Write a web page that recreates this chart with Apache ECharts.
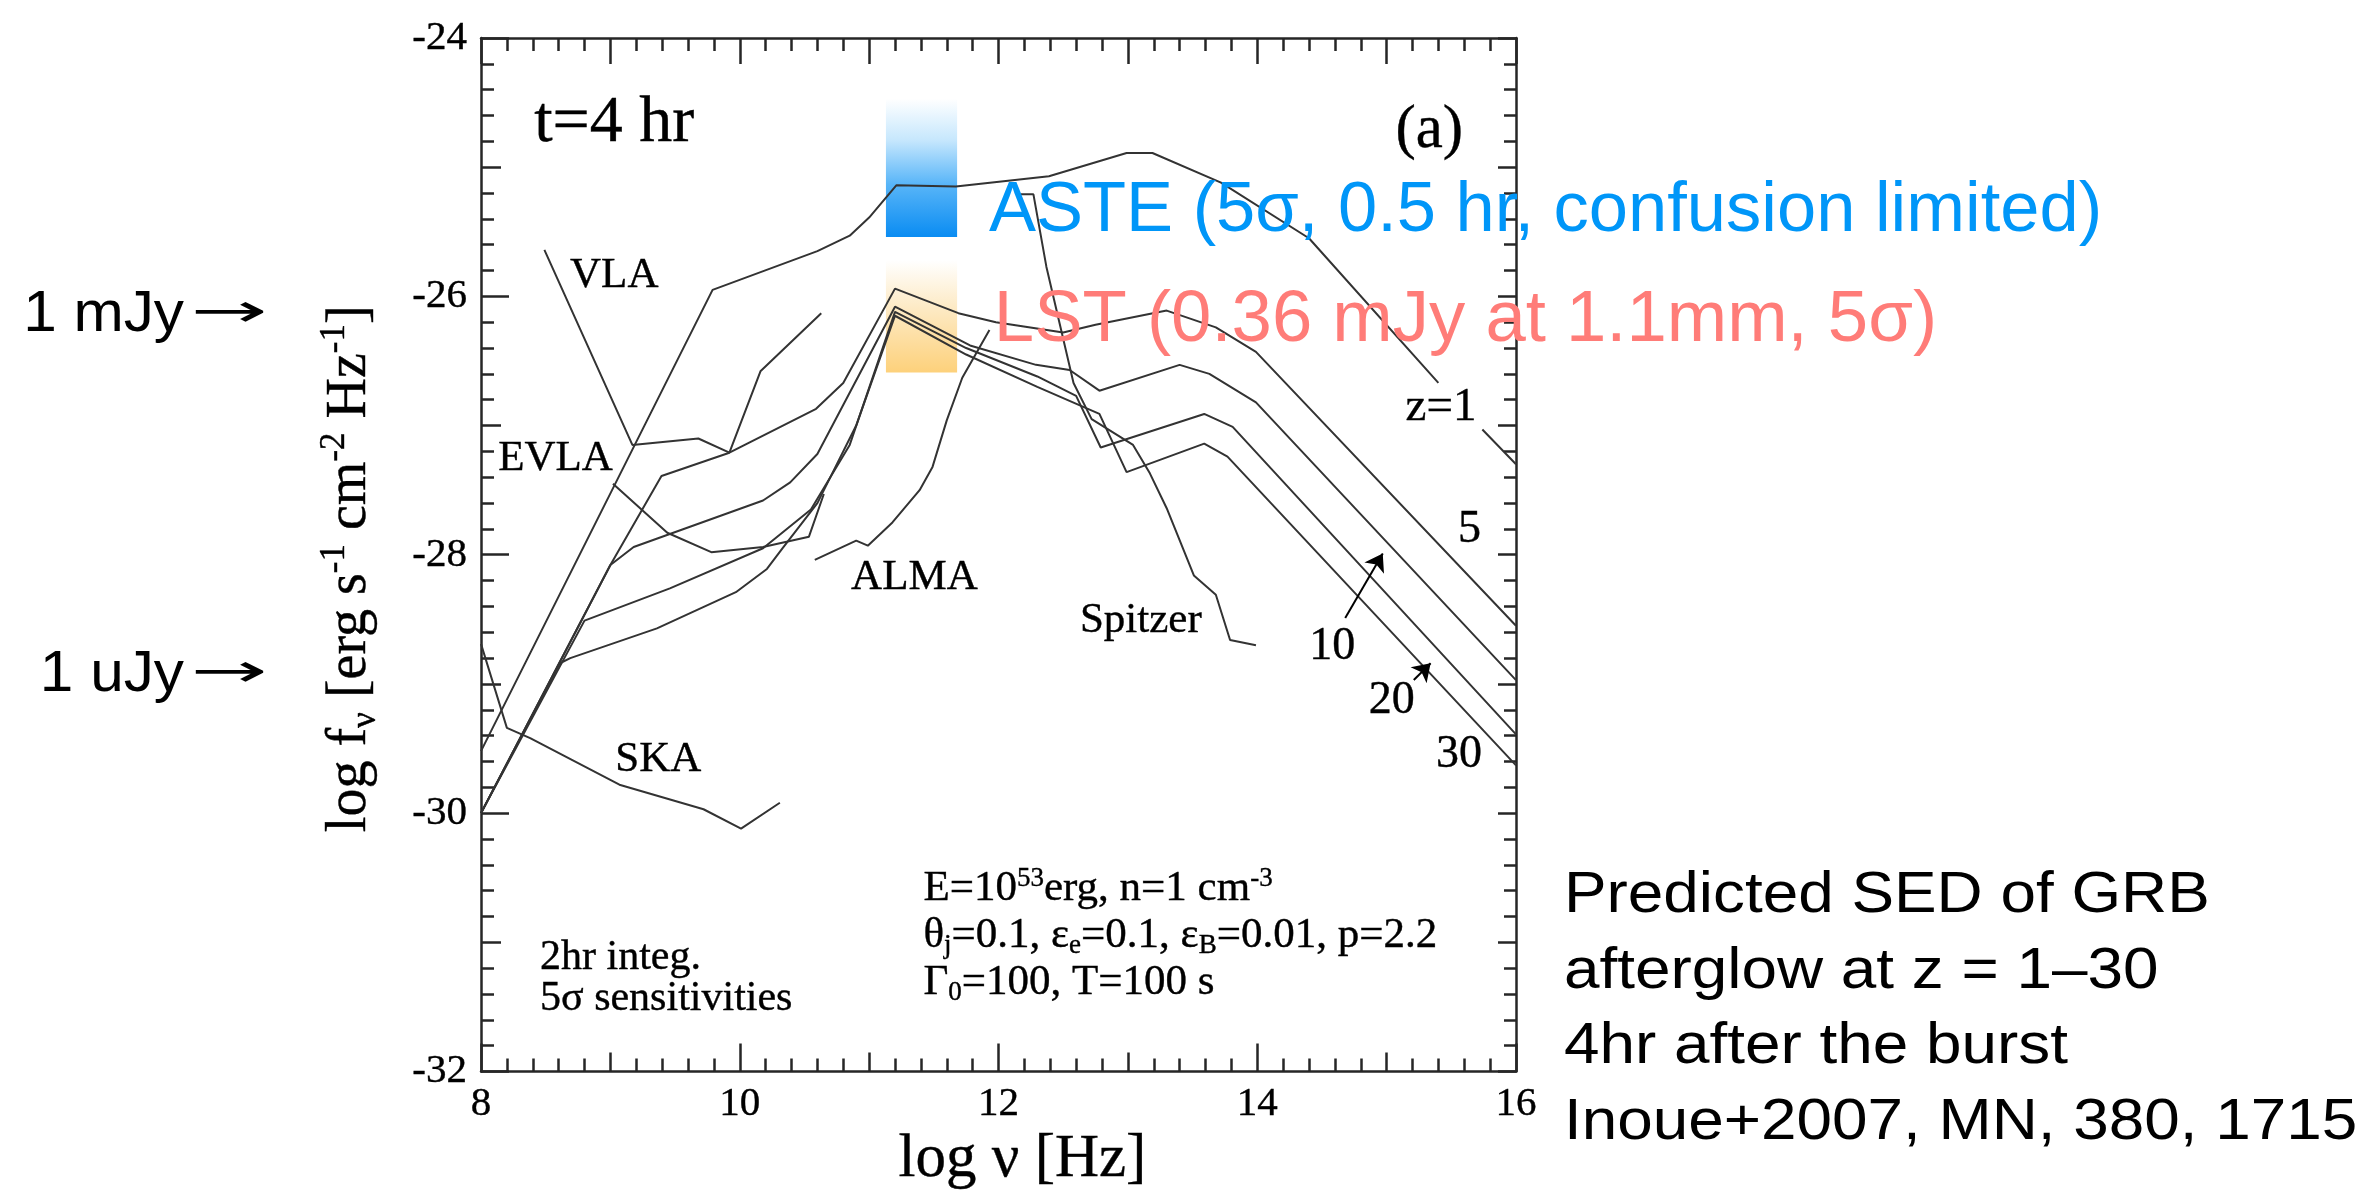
<!DOCTYPE html>
<html>
<head>
<meta charset="utf-8">
<script src="https://cdn.jsdelivr.net/npm/echarts@6/dist/echarts.min.js"></script>
<style>
  html, body { margin: 0; padding: 0; background: #ffffff; }
  #chart { width: 2365px; height: 1196px; }
</style>
</head>
<body>
<div id="chart"></div>
<script>
// Axis ticks: log nu [Hz] and log f_nu [erg s^-1 cm^-2 Hz^-1]
const xTicks = [8, 10, 12, 14, 16];
const yTicks = [-32, -30, -28, -26, -24];

// Afterglow model spectra 4 hr after the burst, one per redshift
const sedZ1 = [[8.0, -29.52], [9.79, -25.95], [10.6, -25.65], [10.85, -25.53], [11.0, -25.39], [11.21, -25.14],
  [11.67, -25.15], [12.39, -25.07], [12.99, -24.89], [13.19, -24.89], [13.72, -25.12], [14.4, -25.55],
  [15.4, -26.67], [15.57, null], [15.74, -27.03], [16.0, -27.3]];
const sedZ5 = [[8.0, -30.0], [9.0, -28.08], [9.395, -27.39], [9.92, -27.21], [10.59, -26.87], [10.8, -26.67],
  [11.2, -25.94], [11.69, -26.13], [11.98, -26.2], [12.5, -26.28], [12.75, -26.22], [13.3, -26.11],
  [13.68, -26.24], [13.99, -26.43], [16.0, -28.55]];
const sedZ10 = [[8.0, -30.0], [9.0, -28.08], [9.18, -27.94], [10.18, -27.58], [10.39, -27.44], [10.6, -27.22],
  [11.2, -26.08], [11.78, -26.38], [12.29, -26.53], [12.55, -26.57], [12.78, -26.73], [13.4, -26.53],
  [13.63, -26.6], [13.99, -26.82], [16.0, -28.97]];
const sedZ20 = [[8.0, -30.0], [8.8, -28.51], [9.46, -28.26], [10.18, -27.95], [10.55, -27.65], [10.85, -27.15],
  [11.2, -26.12], [11.75, -26.4], [12.3, -26.62], [12.6, -26.77], [12.79, -27.17], [13.59, -26.91],
  [13.81, -27.01], [16.0, -29.39]];
const sedZ30 = [[8.0, -30.0], [8.61, -28.84], [8.69, -28.8], [9.36, -28.57], [9.97, -28.29], [10.21, -28.11],
  [10.33, -27.95], [10.6, -27.6], [10.9, -27.0], [11.2, -26.15], [11.75, -26.45], [12.3, -26.7],
  [12.78, -26.91], [12.99, -27.36], [13.59, -27.14], [13.77, -27.24], [16.0, -29.63]];

// 5 sigma sensitivities, 2 hr integration
const vla = [[8.49, -25.64], [9.17, -27.15], [9.68, -27.1], [9.92, -27.21], [10.16, -26.58], [10.63, -26.13]];
const evla = [[9.02, -27.45], [9.44, -27.83], [9.78, -27.98], [10.18, -27.94], [10.535, -27.86], [10.65, -27.53]];
const ska = [[8.0, -28.69], [8.2, -29.34], [8.38, -29.42], [9.07, -29.78], [9.72, -29.97], [10.01, -30.12], [10.31, -29.92]];
const alma = [[10.58, -28.04], [10.9, -27.89], [10.99, -27.93], [11.18, -27.75], [11.39, -27.5], [11.49, -27.32],
  [11.6, -26.96], [11.72, -26.63], [11.93, -26.26]];
const spitzer = [[12.17, -25.21], [12.27, -25.21], [12.37, -25.77], [12.58, -26.67], [12.72, -26.95], [13.04, -27.15],
  [13.17, -27.37], [13.3, -27.64], [13.51, -28.16], [13.68, -28.31], [13.79, -28.66], [13.99, -28.7]];

// Single-dish sensitivity bands: [log nu from, log nu to, log f bottom, log f top]
const asteBand = [11.13, 11.68, -25.54, -24.47];
const lstBand = [11.13, 11.68, -26.59, -25.72];

// Redshift pointer arrows: [tail, head]
const zArrows = [[[14.68, -28.49], [14.97, -27.99]], [[15.21, -28.97], [15.34, -28.84]]];

const SERIF = '"Liberation Serif", "Times New Roman", serif';
const SANS = '"Liberation Sans", Arial, sans-serif';
const INK = '#000000';
const CURVE = '#333333';

const supSub = (size) => ({
  sup: { fontFamily: SERIF, fontSize: size, color: INK, verticalAlign: 'top', lineHeight: size,
    textBorderColor: INK, textBorderWidth: 0.4 },
  sub: { fontFamily: SERIF, fontSize: size, color: INK, verticalAlign: 'bottom', lineHeight: size,
    textBorderColor: INK, textBorderWidth: 0.4 }
});

// Text placed in data space inside the frame
const notes = [
  { text: 't=4 hr', at: [9.03, -24.66], size: 66 },
  { text: '(a)', at: [15.33, -24.72], size: 61 },
  { text: 'VLA', at: [9.03, -25.84], size: 43 },
  { text: 'EVLA', at: [8.576, -27.26], size: 43 },
  { text: 'SKA', at: [9.37, -29.59], size: 43 },
  { text: 'ALMA', at: [11.35, -28.18], size: 43 },
  { text: 'Spitzer', at: [13.1, -28.51], size: 43 },
  { text: 'z=1', at: [15.42, -26.86], size: 47 },
  { text: '5', at: [15.64, -27.81], size: 46 },
  { text: '10', at: [14.58, -28.71], size: 46 },
  { text: '20', at: [15.04, -29.13], size: 46 },
  { text: '30', at: [15.56, -29.55], size: 46 },
  { text: '2hr integ.\n5σ sensitivities', at: [8.456, -31.28], size: 42, align: 'left', lh: 41 },
  { text: 'E=10{sup|53}erg, n=1 cm{sup|-3}\nθ{sub|j}=0.1, ε{sub|e}=0.1, ε{sub|B}=0.01, p=2.2\nΓ{sub|0}=100, T=100 s',
    at: [11.42, -30.95], size: 43, align: 'left', lh: 47 },
  { text: 'ASTE (5σ, 0.5 hr, confusion limited)', at: [11.926, -25.34], size: 70.5, align: 'left', color: '#0096f8', font: SANS, plain: true },
  { text: 'LST (0.36 mJy at 1.1mm, 5σ)', at: [11.964, -26.19], size: 72.5, align: 'left', color: '#ff7c78', font: SANS, plain: true }
];

const chart = echarts.init(document.getElementById('chart'), null, { renderer: 'canvas' });

const FRAME = '#262626';
const tickStyle = { color: FRAME, width: 2.5 };

const frameAxis = (extra) => Object.assign({
  type: 'value', min: 8, max: 16, splitLine: { show: false },
  axisLine: { show: true, onZero: false, lineStyle: { color: FRAME, width: 2.5 } },
  axisTick: { show: true, inside: true, length: 26, lineStyle: tickStyle },
  minorTick: { show: true, splitNumber: 5, length: 13, lineStyle: tickStyle },
  axisLabel: { show: false }
}, extra);

const frameYAxis = (extra) => Object.assign({
  type: 'value', min: -32, max: -24, splitLine: { show: false },
  axisLine: { show: true, onZero: false, lineStyle: { color: FRAME, width: 2.5 } },
  axisTick: { show: true, inside: true, length: 26, lineStyle: tickStyle },
  minorTick: { show: true, splitNumber: 5, length: 13, lineStyle: tickStyle },
  axisLabel: { show: false }
}, extra);

const curve = (name, data) => ({
  name, type: 'line', data, showSymbol: false, symbol: 'none', connectNulls: false,
  lineStyle: { color: CURVE, width: 2 }, z: 3, silent: true, clip: true
});

const band = (name, b, stops) => ({
  name, type: 'custom', z: 1, silent: true,
  data: [b],
  renderItem: (params, api) => {
    const p0 = api.coord([api.value(0), api.value(3)]);
    const p1 = api.coord([api.value(1), api.value(2)]);
    return {
      type: 'rect',
      shape: { x: p0[0], y: p0[1], width: p1[0] - p0[0], height: p1[1] - p0[1] },
      style: { fill: new echarts.graphic.LinearGradient(0, 0, 0, 1, stops) }
    };
  }
});

const option = {
  animation: false,
  backgroundColor: '#ffffff',
  grid: { left: 481, top: 38, width: 1035, height: 1036, containLabel: false },
  xAxis: [
    frameAxis({
      position: 'bottom', interval: 2, minorTick: { show: true, splitNumber: 10, length: 13, lineStyle: tickStyle },
      axisTick: { show: true, inside: true, length: 28, lineStyle: tickStyle },
      axisLabel: { show: true, margin: 12, fontFamily: SERIF, fontSize: 41, color: INK,
        textBorderColor: INK, textBorderWidth: 0.4,
        customValues: xTicks, formatter: (v) => String(v) },
      name: 'log ν [Hz]', nameLocation: 'middle', nameGap: 56,
      nameTextStyle: { fontFamily: SERIF, fontSize: 61, color: INK, textBorderColor: INK, textBorderWidth: 0.4,
        padding: [0, 0, 0, 48] }
    }),
    frameAxis({ position: 'bottom', interval: 1, axisLine: { show: false }, minorTick: { show: false },
      axisTick: { show: true, inside: true, length: 19, lineStyle: tickStyle } }),
    frameAxis({ position: 'top', interval: 1 })
  ],
  yAxis: [
    frameYAxis({
      position: 'left', interval: 2, minorTick: { show: true, splitNumber: 10, length: 13, lineStyle: tickStyle },
      axisTick: { show: true, inside: true, length: 28, lineStyle: tickStyle },
      axisLabel: { show: true, margin: 14, fontFamily: SERIF, fontSize: 41, color: INK,
        textBorderColor: INK, textBorderWidth: 0.4,
        customValues: yTicks, formatter: (v) => String(v) },
      name: 'log f{sub|ν} [erg s{sup|-1} cm{sup|-2} Hz{sup|-1}]',
      nameLocation: 'middle', nameRotate: 90, nameGap: 98,
      nameTextStyle: { fontFamily: SERIF, fontSize: 56, color: INK, lineHeight: 66,
        textBorderColor: INK, textBorderWidth: 0.4, rich: supSub(35), padding: [0, 28, 0, 0] }
    }),
    frameYAxis({ position: 'left', interval: 1, axisLine: { show: false }, minorTick: { show: false },
      axisTick: { show: true, inside: true, length: 20, lineStyle: tickStyle } }),
    frameYAxis({ position: 'right', interval: 1,
      axisTick: { show: true, inside: true, length: 18, lineStyle: tickStyle },
      minorTick: { show: true, splitNumber: 5, length: 12, lineStyle: tickStyle } })
  ],
  series: [
    band('ASTE', asteBand, [
      { offset: 0, color: '#ffffff' }, { offset: 0.3, color: '#c6e7fd' },
      { offset: 0.62, color: '#58b5f8' }, { offset: 1, color: '#0a8cf2' }]),
    band('LST', lstBand, [
      { offset: 0, color: '#ffffff' }, { offset: 0.4, color: '#fdebc8' }, { offset: 1, color: '#fdd17b' }]),
    curve('z=1', sedZ1), curve('z=5', sedZ5), curve('z=10', sedZ10), curve('z=20', sedZ20), curve('z=30', sedZ30),
    curve('VLA', vla), curve('EVLA', evla), curve('SKA', ska), curve('ALMA', alma), curve('Spitzer', spitzer),
    {
      name: 'arrows', type: 'lines', coordinateSystem: 'cartesian2d', z: 4, silent: true,
      symbol: ['none', 'arrow'], symbolSize: [0, 17],
      lineStyle: { color: INK, width: 2, opacity: 1 },
      data: zArrows.map((a) => ({ coords: a }))
    },
    {
      name: 'notes', type: 'scatter', symbolSize: 0, z: 6, silent: true, clip: false,
      itemStyle: { opacity: 1 },
      data: notes.map((n) => ({
        value: n.at,
        label: {
          show: true, position: [0, 0], formatter: n.text, opacity: 1,
          align: n.align || 'center', verticalAlign: 'middle',
          fontFamily: n.font || SERIF, fontSize: n.size, color: n.color || INK,
          textBorderColor: n.plain ? 'transparent' : INK, textBorderWidth: n.plain ? 0 : 0.4,
          lineHeight: n.lh || Math.round(n.size * 1.15),
          rich: supSub(Math.round(n.size * 0.62))
        }
      }))
    }
  ],
  graphic: [
    { type: 'text', x: 184, y: 315, scaleX: 1.04,
      style: { text: '1 mJy', font: '58px ' + SANS, fill: '#000', align: 'right', verticalAlign: 'middle' } },
    { type: 'text', x: 191, y: 314, scaleX: 2.0,
      style: { text: '→', font: '46px "DejaVu Sans"', fill: '#000', align: 'left', verticalAlign: 'middle' } },
    { type: 'text', x: 184, y: 675, scaleX: 1.04,
      style: { text: '1 uJy', font: '58px ' + SANS, fill: '#000', align: 'right', verticalAlign: 'middle' } },
    { type: 'text', x: 191, y: 674, scaleX: 2.0,
      style: { text: '→', font: '46px "DejaVu Sans"', fill: '#000', align: 'left', verticalAlign: 'middle' } },
    { type: 'text', x: 1564, y: 859, scaleX: 1.12,
      style: {
        text: 'Predicted SED of GRB\nafterglow at z = 1–30\n4hr after the burst\nInoue+2007, MN, 380, 1715',
        font: '57px ' + SANS, fill: '#000', align: 'left', verticalAlign: 'top', lineHeight: 75.5 } }
  ]
};

chart.setOption(option);
</script>
</body>
</html>
